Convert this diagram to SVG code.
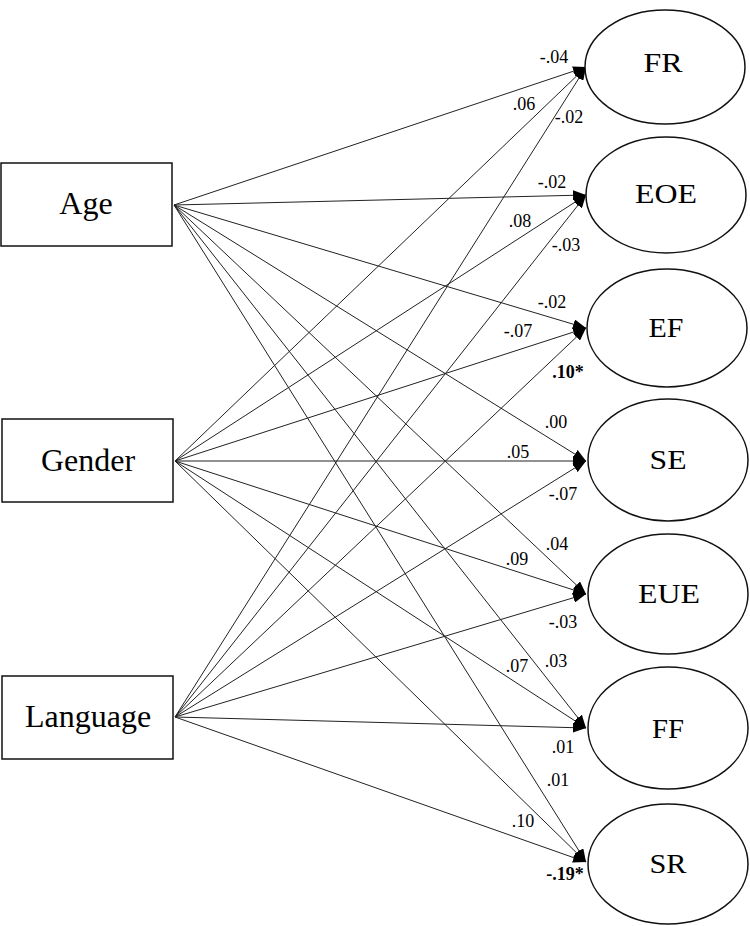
<svg xmlns="http://www.w3.org/2000/svg" width="750" height="926" viewBox="0 0 750 926">
<style>
text{font-family:"Liberation Serif","Times New Roman","DejaVu Serif",serif;fill:#000;text-anchor:middle}
.box{fill:#fff;stroke:#111;stroke-width:1.5}
.ell{fill:#fff;stroke:#111;stroke-width:1.5}
.nl{font-size:32px}
.el{font-size:28px}
.lb{font-size:18px}
.b{font-weight:bold}
.e{fill:none;stroke:#222;stroke-width:1;marker-end:url(#ah)}
</style>
<defs>
<marker id="ah" markerUnits="userSpaceOnUse" markerWidth="13" markerHeight="10" refX="13" refY="5" orient="auto">
<path d="M0,0 L13,5 L0,10 z" fill="#000"/>
</marker>
</defs>
<rect width="750" height="926" fill="#fff"/>
<g id="connectors">
<line class="e" x1="174" y1="205" x2="586" y2="67"/>
<line class="e" x1="174" y1="205" x2="586" y2="195"/>
<line class="e" x1="174" y1="205" x2="586" y2="328"/>
<line class="e" x1="174" y1="205" x2="586" y2="461"/>
<line class="e" x1="174" y1="205" x2="586" y2="594"/>
<line class="e" x1="174" y1="205" x2="586" y2="728"/>
<line class="e" x1="174" y1="205" x2="586" y2="862"/>
<line class="e" x1="175" y1="461" x2="586" y2="67"/>
<line class="e" x1="175" y1="461" x2="586" y2="195"/>
<line class="e" x1="175" y1="461" x2="586" y2="328"/>
<line class="e" x1="175" y1="461" x2="586" y2="461"/>
<line class="e" x1="175" y1="461" x2="586" y2="594"/>
<line class="e" x1="175" y1="461" x2="586" y2="728"/>
<line class="e" x1="175" y1="461" x2="586" y2="862"/>
<line class="e" x1="175" y1="717" x2="586" y2="67"/>
<line class="e" x1="175" y1="717" x2="586" y2="195"/>
<line class="e" x1="175" y1="717" x2="586" y2="328"/>
<line class="e" x1="175" y1="717" x2="586" y2="461"/>
<line class="e" x1="175" y1="717" x2="586" y2="594"/>
<line class="e" x1="175" y1="717" x2="586" y2="728"/>
<line class="e" x1="175" y1="717" x2="586" y2="862"/>
</g>
<g id="labels">
<text class="lb" x="554" y="63">-.04</text>
<text class="lb" x="524" y="110">.06</text>
<text class="lb" x="569" y="123">-.02</text>
<text class="lb" x="552" y="188">-.02</text>
<text class="lb" x="520" y="227">.08</text>
<text class="lb" x="566" y="251">-.03</text>
<text class="lb" x="552" y="308">-.02</text>
<text class="lb" x="518" y="337">-.07</text>
<text class="lb b" x="568" y="378">.10*</text>
<text class="lb" x="556" y="428">.00</text>
<text class="lb" x="518" y="458">.05</text>
<text class="lb" x="563" y="500">-.07</text>
<text class="lb" x="557" y="550">.04</text>
<text class="lb" x="517" y="565">.09</text>
<text class="lb" x="563" y="628">-.03</text>
<text class="lb" x="556" y="667">.03</text>
<text class="lb" x="517" y="672">.07</text>
<text class="lb" x="563" y="753">.01</text>
<text class="lb" x="558" y="786">.01</text>
<text class="lb" x="523" y="827">.10</text>
<text class="lb b" x="565" y="880">-.19*</text>
</g>
<g id="Age"><rect class="box" x="1" y="163" width="171" height="83"/><text class="nl" x="86" y="214">Age</text></g>
<g id="Gender"><rect class="box" x="2" y="419" width="171" height="83"/><text class="nl" x="88" y="471">Gender</text></g>
<g id="Language"><rect class="box" x="2" y="676" width="171" height="83"/><text class="nl" x="88" y="727">Language</text></g>
<g id="FR"><ellipse class="ell" cx="665" cy="67" rx="80" ry="57"/><text class="el" x="663" y="72" textLength="39" lengthAdjust="spacingAndGlyphs">FR</text></g>
<g id="EOE"><ellipse class="ell" cx="666" cy="195" rx="80" ry="58"/><text class="el" x="666" y="203" textLength="62" lengthAdjust="spacingAndGlyphs">EOE</text></g>
<g id="EF"><ellipse class="ell" cx="667" cy="328" rx="80" ry="59"/><text class="el" x="666" y="337" textLength="35" lengthAdjust="spacingAndGlyphs">EF</text></g>
<g id="SE"><ellipse class="ell" cx="668" cy="460" rx="80" ry="61"/><text class="el" x="668" y="469" textLength="37" lengthAdjust="spacingAndGlyphs">SE</text></g>
<g id="EUE"><ellipse class="ell" cx="668" cy="594" rx="80" ry="60"/><text class="el" x="669" y="603" textLength="62" lengthAdjust="spacingAndGlyphs">EUE</text></g>
<g id="FF"><ellipse class="ell" cx="668" cy="728" rx="80" ry="61"/><text class="el" x="668" y="738" textLength="32" lengthAdjust="spacingAndGlyphs">FF</text></g>
<g id="SR"><ellipse class="ell" cx="668" cy="864" rx="80" ry="60"/><text class="el" x="668" y="873" textLength="37" lengthAdjust="spacingAndGlyphs">SR</text></g>
</svg>
